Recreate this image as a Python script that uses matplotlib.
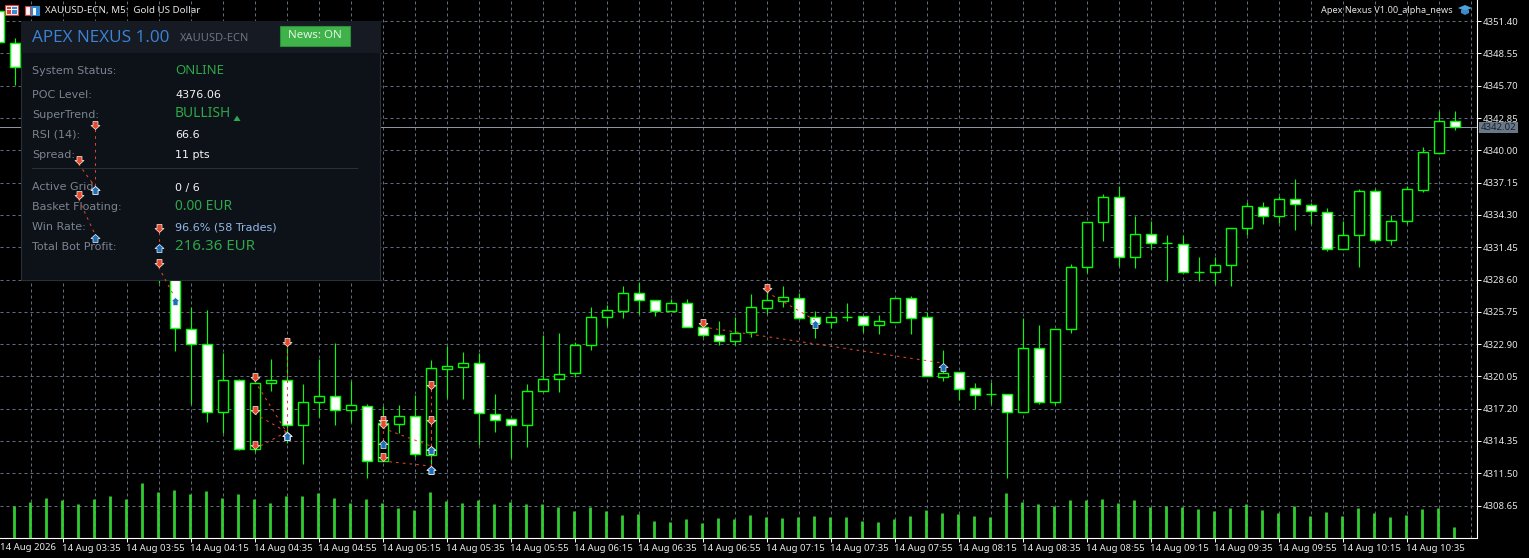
import numpy as np
import matplotlib
matplotlib.use("Agg")
import matplotlib.pyplot as plt
from matplotlib.patches import Rectangle, Polygon
from matplotlib.path import Path
from matplotlib.transforms import Affine2D

nan = float("nan")

# bars 2-9 sit behind the info panel
opens = [4352.30, 4349.50, nan, nan, nan, nan, nan, nan, nan, nan, nan, 4335.60, 4324.26, 4322.88, 4316.88, 4319.71,
         4313.61, 4319.44, 4319.71, 4315.73, 4317.76, 4318.29, 4317.06, 4317.41, 4312.56, 4315.87, 4316.53, 4313.08,
         4320.73, 4320.91, 4321.21, 4316.76, 4316.32, 4315.73, 4318.73, 4319.79, 4320.32, 4322.79, 4325.27, 4325.85,
         4327.38, 4326.77, 4325.80, 4326.50, 4324.38, 4323.68, 4323.15, 4323.99, 4326.11, 4326.73, 4326.99, 4325.27,
         4324.82, 4325.29, 4325.35, 4324.56, 4324.85, 4326.94, 4325.27, 4320.02, 4320.41, 4319.00, 4318.50, 4318.47,
         4316.93, 4322.53, 4317.82, 4324.21, 4329.68, 4333.65, 4335.86, 4330.56, 4332.59, 4331.80, 4331.76, 4329.24,
         4329.24, 4329.86, 4333.12, 4335.03, 4334.18, 4335.68, 4335.20, 4334.59, 4331.27, 4332.50, 4336.39, 4332.06,
         4333.74, 4336.53, 4339.74, 4342.62]
highs = [4352.83, 4349.92, nan, nan, nan, nan, nan, nan, nan, nan, 4335.60, 4336.00, 4326.20, 4325.91, 4322.09, 4319.79,
         4319.64, 4321.58, 4323.00, 4319.38, 4321.58, 4322.97, 4319.64, 4317.59, 4317.44, 4317.52, 4318.41, 4321.50,
         4322.71, 4322.18, 4322.09, 4318.47, 4316.32, 4319.35, 4323.68, 4323.85, 4323.11, 4326.15, 4326.33, 4328.03,
         4328.38, 4326.77, 4326.85, 4326.85, 4325.03, 4324.91, 4325.27, 4327.32, 4327.67, 4328.03, 4327.38, 4325.80,
         4325.80, 4326.53, 4325.35, 4325.47, 4326.94, 4327.14, 4325.76, 4322.38, 4320.41, 4319.47, 4319.55, 4318.47,
         4325.18, 4324.59, 4324.21, 4329.97, 4333.65, 4336.15, 4336.85, 4334.21, 4333.74, 4332.53, 4332.53, 4330.59,
         4330.56, 4333.12, 4335.42, 4335.42, 4335.94, 4337.44, 4335.38, 4334.89, 4333.74, 4336.59, 4336.56, 4334.29,
         4336.85, 4340.27, 4343.47, 4343.47]
lows = [4349.54, 4345.77, nan, nan, nan, nan, nan, nan, nan, nan, 4328.29, 4322.32, 4317.64, 4316.05, 4315.03, 4313.53,
        4313.40, 4318.79, 4314.14, 4312.34, 4316.49, 4315.76, 4316.03, 4311.11, 4312.56, 4315.03, 4312.91, 4312.14,
        4318.17, 4318.05, 4313.97, 4315.17, 4312.87, 4313.84, 4318.73, 4318.70, 4319.97, 4322.38, 4324.52, 4325.23,
        4325.58, 4325.41, 4325.80, 4324.38, 4323.50, 4322.85, 4322.85, 4323.55, 4325.58, 4326.20, 4325.14, 4323.46,
        4324.32, 4324.96, 4323.99, 4323.79, 4324.85, 4323.79, 4320.11, 4319.64, 4317.97, 4317.17, 4317.61, 4311.11,
        4316.93, 4317.61, 4317.52, 4323.91, 4329.20, 4332.03, 4329.82, 4329.64, 4331.32, 4328.50, 4329.17, 4328.47,
        4328.23, 4328.05, 4332.56, 4333.50, 4333.56, 4333.00, 4333.53, 4331.14, 4331.27, 4329.73, 4331.91, 4331.65,
        4333.53, 4336.35, 4339.74, 4341.80]
closes = [4349.54, 4347.33, nan, nan, nan, nan, nan, nan, nan, nan, nan, 4324.29, 4322.88, 4316.88, 4319.71, 4313.61,
          4319.44, 4319.71, 4315.73, 4317.76, 4318.29, 4317.06, 4317.50, 4312.56, 4315.91, 4316.53, 4313.17, 4320.76,
          4320.94, 4321.21, 4316.79, 4316.23, 4315.73, 4318.73, 4319.79, 4320.23, 4322.79, 4325.27, 4325.88, 4327.38,
          4326.77, 4325.80, 4326.50, 4324.38, 4323.68, 4323.15, 4323.85, 4326.15, 4326.77, 4327.03, 4325.23, 4324.79,
          4325.27, 4325.29, 4324.56, 4324.91, 4326.94, 4325.23, 4320.11, 4320.32, 4318.96, 4318.43, 4318.50, 4316.93,
          4322.53, 4317.82, 4324.21, 4329.68, 4333.65, 4335.86, 4330.56, 4332.59, 4331.80, 4331.80, 4329.24, 4329.24,
          4329.86, 4333.12, 4335.06, 4334.18, 4335.68, 4335.24, 4334.62, 4331.27, 4332.50, 4336.39, 4332.06, 4333.74,
          4336.56, 4339.83, 4342.56, 4342.03]
volumes = [nan, 313, 353, 393, 373, 333, 383, 413, 383, 543, 453, 473, 433, 463, 400, 433, 383, 350, 413, 413, 443, 400,
           350, 383, 343, 293, 273, 453, 363, 350, 373, 333, 353, 333, 333, 303, 263, 303, 263, 223, 233, 163, 157, 183,
           143, 193, 183, 223, 203, 193, 203, 213, 203, 203, 163, 153, 183, 213, 273, 243, 233, 213, 203, 443, 353, 333,
           320, 373, 373, 383, 343, 373, 303, 313, 303, 283, 263, 293, 333, 273, 243, 313, 213, 253, 213, 293, 243, 203,
           223, 283, 293, 103]

last_price = 4342.02
price_ticks = [4351.40, 4348.55, 4345.70, 4342.85, 4340.00, 4337.15, 4334.30, 4331.45, 4328.60, 4325.75, 4322.90,
               4320.05, 4317.20, 4314.35, 4311.50, 4308.65]
time_labels = ["14 Aug 03:35", "14 Aug 03:55", "14 Aug 04:15", "14 Aug 04:35", "14 Aug 04:55", "14 Aug 05:15",
               "14 Aug 05:35", "14 Aug 05:55", "14 Aug 06:15", "14 Aug 06:35", "14 Aug 06:55", "14 Aug 07:15",
               "14 Aug 07:35", "14 Aug 07:55", "14 Aug 08:15", "14 Aug 08:35", "14 Aug 08:55", "14 Aug 09:15",
               "14 Aug 09:35", "14 Aug 09:55", "14 Aug 10:15", "14 Aug 10:35"]

sell_bar = [6, 5, 5, 10, 10, 16, 16, 16, 18, 24, 24, 24, 27, 27, 44, 48]
sell_price = [4341.91, 4338.80, 4335.71, 4332.79, 4329.70, 4319.67, 4316.76, 4313.64, 4322.73, 4315.87, 4315.49,
              4312.58, 4318.94, 4315.85, 4324.41, 4327.50]
close_bar = [6, 6, 6, 10, 11, 18, 18, 18, 18, 24, 27, 27, 27, 27, 59, 51]
close_price = [4336.85, 4336.85, 4332.66, 4331.73, 4327.06, 4315.14, 4315.14, 4315.14, 4315.14, 4314.43, 4313.91,
               4312.14, 4312.14, 4313.91, 4321.23, 4325.03]

labels_left = ["System Status:", "POC Level:", "SuperTrend:", "RSI (14):", "Spread:", "Active Grid:",
               "Basket Floating:", "Win Rate:", "Total Bot Profit:"]
labels_y = [71.5, 94.5, 114.5, 134.5, 154.5, 187.5, 207.5, 227.5, 247.5]

GREEN = "#00ff00"
GRID = "#5f6d7c"
FONT = "Noto Sans"

plt.rcParams["font.family"] = FONT
fig = plt.figure(figsize=(15.29, 5.58), dpi=100, facecolor="black")
ax = fig.add_axes([0, 20.5 / 558, 1476.5 / 1529, 537.5 / 558], facecolor="black")
# image pixels -> display coordinates
px = Affine2D().scale(1, -1).translate(0, 558)

bars = np.arange(len(closes))
o, h, l, c = map(np.array, (opens, highs, lows, closes))

ax.vlines(bars, l, h, color=GREEN, lw=0.8, zorder=2, snap=True)
body_colors = ["black" if cl > op else "white" for op, cl in zip(opens, closes)]
ax.bar(bars, np.abs(c - o), bottom=np.minimum(o, c), width=0.625, color=body_colors, edgecolor=GREEN, linewidth=1.0,
       zorder=3)
ax.axhline(last_price, color="#8a95a1", lw=0.72, zorder=1.5)

ax.set_xlim(0.09, 92.37)
ax.set_ylim(4353.27 - 537.5 * 0.08826, 4353.27)
ax.set_xticks(bars[4:89:4])
ax.set_xticklabels(time_labels, ha="left")
ax.set_xticks(np.arange(2, 93, 2), minor=True)
ax.yaxis.tick_right()
ax.set_yticks(price_ticks)
ax.set_yticklabels(["%.2f" % p for p in price_ticks])
ax.tick_params(axis="both", which="major", colors="white", labelcolor="#e6e6e6", labelsize=6.9, length=3, width=0.72, pad=1.5)
ax.tick_params(axis="x", which="major", pad=2)
ax.tick_params(axis="x", which="minor", length=0)
ax.grid(True, which="both", color=GRID, lw=0.72, linestyle=(0, (3, 3)), zorder=1)
ax.set_axisbelow(True)
for t in ax.get_xticklabels():
    t.set_transform(t.get_transform() + Affine2D().translate(-0.5, 0))
for side in ["left", "top"]:
    ax.spines[side].set_visible(False)
for side in ["right", "bottom"]:
    ax.spines[side].set_color("white")
    ax.spines[side].set_linewidth(0.8)

# volume sits in its own hidden scale at the bottom of the window
vol_ax = fig.add_axes(ax.get_position(), sharex=ax)
vol_ax.set_axis_off()
vol_ax.set_ylim(0, 5375)
vol_ax.vlines(bars - 0.03, 0, volumes, color="#32cd32", lw=2.0, snap=True)


def box(x0, y0, x1, y1, **kw):
    kw.setdefault("linewidth", 0)
    r = Rectangle((x0, y0), x1 - x0, y1 - y0, transform=px, clip_on=False, **kw)
    ax.add_patch(r)
    return r


def label(x, y, s, color="#e0e0e0", size=8, ha="left", zorder=6, family="DejaVu Sans", **kw):
    return ax.text(x, y, s, transform=px, color=color, fontsize=size, ha=ha, va="center", zorder=zorder,
                   clip_on=False, family=family, **kw)


# info panel
box(20.5, 20.5, 380, 279.5, facecolor="#0d1118", edgecolor="#2a2f38", linewidth=0.8, zorder=5)
box(21, 21, 381, 52.5, facecolor="#151a23", zorder=5.1)
label(32, 38, "APEX NEXUS 1.00", color="#3d83d8", size=12.3, family="Open Sans")
label(180, 38.5, "XAUUSD-ECN", color="#6b7380", size=8, family=FONT)
box(280, 26, 350, 46, facecolor="#3fb24a", edgecolor="#2e8f39", linewidth=0.8, zorder=5.5)
label(315, 35.5, "News: ON", color="#e2f5e2", size=8.3, ha="center", family=FONT)
box(32, 168, 358, 169, facecolor="#2a2f38", zorder=5.2)
for s, y in zip(labels_left, labels_y):
    label(32, y, s, color="#7b8490")

GREEN_TEXT = "#2ea84a"
WHITE_TEXT = "#f4f4f4"
label(175, 70.5, "ONLINE", color=GREEN_TEXT, size=9.5, family=FONT)
label(175, 94.5, "4376.06", color=WHITE_TEXT)
label(175, 113.5, "BULLISH", color=GREEN_TEXT, size=9.9, family=FONT)
ax.add_patch(Polygon([(233.5, 121), (240.5, 121), (237, 115.5)], transform=px, facecolor=GREEN_TEXT, linewidth=0, zorder=6))
label(175, 134.5, "66.6", color=WHITE_TEXT)
label(175, 154.5, "11 pts", color=WHITE_TEXT)
label(175, 187.5, "0 / 6", color=WHITE_TEXT)
label(175, 206.5, "0.00 EUR", color=GREEN_TEXT, size=9.9, family=FONT)
label(175, 227.5, "96.6% (58 Trades)", color="#93b9e8")
label(175, 246.5, "216.36 EUR", color=GREEN_TEXT, size=10.8, family=FONT)

# trades are drawn over the panel; arrows hang from their tip
down_arrow = Path([(0, 0), (4.5, 4), (2.5, 4), (2.5, 8), (-2.5, 8), (-2.5, 4), (-4.5, 4), (0, 0)])
up_arrow = Path([(0, 0), (4.5, -4), (2.5, -4), (2.5, -8), (-2.5, -8), (-2.5, -4), (-4.5, -4), (0, 0)])
for b0, p0, b1, p1 in zip(sell_bar, sell_price, close_bar, close_price):
    ax.plot([b0, b1], [p0, p1], color="#e2462a", lw=0.75, linestyle=(0, (2.5, 4)), zorder=7, clip_on=False)
ax.plot(sell_bar, sell_price, linestyle="none", marker=down_arrow, markersize=11.5, markerfacecolor="#e8492b",
        markeredgecolor="#f7f2f0", markeredgewidth=0.5, zorder=8)
ax.plot(close_bar, close_price, linestyle="none", marker=up_arrow, markersize=11.5, markerfacecolor="#1c6fb8",
        markeredgecolor="#f2f6fa", markeredgewidth=0.5, zorder=8)

# header: toolbar icons and captions
box(5, 5, 18, 15, facecolor="#f3f3f3", edgecolor="#d9423a", linewidth=0.8, zorder=6)
box(7, 7, 11, 9, facecolor="#d9423a", zorder=6.1)
box(12, 7, 17, 9, facecolor="#3d8ad6", zorder=6.1)
box(7, 10, 11, 13.5, facecolor="#d9423a", zorder=6.1)
box(12, 10, 17, 13.5, facecolor="#3d8ad6", zorder=6.1)
box(25, 6, 30, 15, facecolor="#f4f4f4", edgecolor="#d9423a", linewidth=0.8, zorder=6)
box(31, 6, 39, 15, facecolor="#2f86d0", edgecolor="#2f86d0", linewidth=0.8, zorder=6)
box(33, 8, 36, 15, facecolor="#f4f4f4", zorder=6.1)
label(45, 10.5, "XAUUSD-ECN, M5:  Gold US Dollar", color="#e4e4e4", size=7.0, family=FONT)
label(1453, 10.5, "Apex Nexus V1.00_alpha_news", color="#e4e4e4", ha="right", size=6.6, family=FONT)
ax.add_patch(Polygon([(1458, 8), (1465, 5), (1472, 8), (1465, 11)], transform=px, facecolor="#4aa3df", linewidth=0, zorder=6))
ax.add_patch(Polygon([(1461, 10), (1469, 10), (1469, 13), (1465, 15), (1461, 13)], transform=px, facecolor="#3d8ac6",
                     linewidth=0, zorder=6))
label(0, 547, "14 Aug 2026", color="#e6e6e6", size=6.9, family=FONT)

# last price box on the axis
box(1479, 122, 1518, 132.5, facecolor="#697787", zorder=6)
label(1498.5, 127.5, "%.2f" % last_price, color="#16202a", ha="center", zorder=6.5, size=6.9, family=FONT)

fig.savefig("out.png", dpi=100, facecolor="black")
